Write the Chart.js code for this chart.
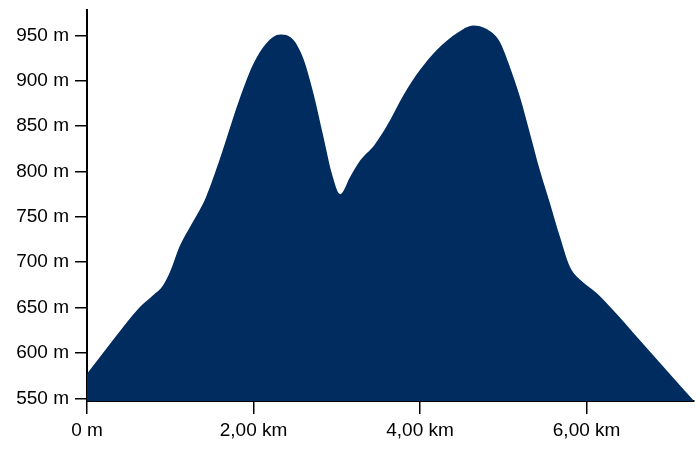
<!DOCTYPE html>
<html>
<head>
<meta charset="utf-8">
<script src="https://cdn.jsdelivr.net/npm/chart.js@4"></script>
<style>
  html, body { margin: 0; padding: 0; background: #fff; }
  #wrap { width: 700px; height: 450px; }
</style>
</head>
<body>
<div id="wrap"><canvas id="profile" width="700" height="450"></canvas></div>
<script>
// distance along the route (km) and elevation (m)
const distances = [0.00, 0.31, 0.63, 0.80, 0.91, 1.00, 1.11, 1.25, 1.43, 1.60, 1.72, 1.84, 2.00, 2.16, 2.32, 2.48,
  2.60, 2.72, 2.84, 2.94, 3.04, 3.16, 3.28, 3.45, 3.60, 3.80, 4.00, 4.20, 4.45, 4.64, 4.80,
  4.95, 5.08, 5.20, 5.32, 5.44, 5.56, 5.68, 5.80, 5.93, 6.12, 6.32, 6.64, 6.96, 7.28];
const elevations = [577, 614, 650, 664, 674, 690, 717, 741, 772, 815, 849, 882, 919, 942, 951, 945,
  924, 886, 838, 798, 775, 794, 812, 829, 850, 884, 912, 934, 953, 961, 957,
  944, 915, 882, 842, 801, 765, 728, 695, 680, 666, 647, 614, 581, 548];

const xTicks = [0, 2, 4, 6];
const yTicks = [550, 600, 650, 700, 750, 800, 850, 900, 950];

const fillColor = '#002c5f';
const tickFont = { family: '"Liberation Sans", Arial, sans-serif', size: 19 };

function kmLabel(v) {
    if (v === 0) return '0 m';
    return v.toFixed(2).replace('.', ',') + ' km';
}

const points = distances.map((d, i) => ({ x: d, y: elevations[i] }));

new Chart(document.getElementById('profile'), {
    type: 'line',
    data: {
        datasets: [{
            data: points,
            fill: 'start',
            backgroundColor: fillColor,
            borderColor: fillColor,
            borderWidth: 0,
            pointRadius: 0,
            cubicInterpolationMode: 'monotone'
        }]
    },
    options: {
        responsive: false,
        animation: false,
        layout: { padding: { left: 0, right: 6, top: 10, bottom: 0 } },
        plugins: { legend: { display: false }, tooltip: { enabled: false } },
        scales: {
            x: {
                type: 'linear',
                min: 0,
                max: 7.29,
                afterBuildTicks: (scale) => { scale.ticks = xTicks.map(v => ({ value: v })); },
                afterFit: (scale) => { scale.height = 49; },
                border: { color: '#000', width: 2 },
                grid: { drawOnChartArea: false, drawTicks: true, tickLength: 13, color: '#000', lineWidth: 1.5 },
                ticks: { color: '#000', font: tickFont, padding: 5, maxRotation: 0, callback: (v) => kmLabel(v) }
            },
            y: {
                min: 547,
                max: 978,
                afterBuildTicks: (scale) => { scale.ticks = yTicks.map(v => ({ value: v })); },
                afterFit: (scale) => {
                    scale.width = 87;
                    // top tick sits well below the axis end, no room needed for its label
                    scale.paddingTop = 0;
                    scale.paddingBottom = 0;
                },
                border: { color: '#000', width: 2 },
                grid: { drawOnChartArea: false, drawTicks: true, tickLength: 12, color: '#000', lineWidth: 1.5 },
                ticks: { color: '#000', font: tickFont, padding: 6, callback: (v) => v + ' m' }
            }
        }
    }
});
</script>
</body>
</html>
